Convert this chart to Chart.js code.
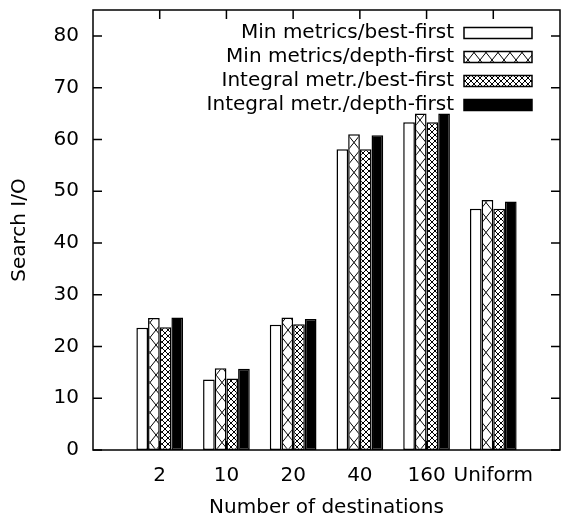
<!DOCTYPE html>
<html><head><meta charset="utf-8">
<script src="https://cdn.jsdelivr.net/npm/chart.js@4/dist/chart.umd.min.js"></script>
<style>html,body{margin:0;padding:0;background:#fff}#wrap{width:561px;height:520px}</style>
</head><body><div id="wrap"><canvas id="c" width="561" height="520"></canvas></div>
<script>
const categories = ['2', '10', '20', '40', '160', 'Uniform'];
const seriesNames = ['Min metrics/best-first', 'Min metrics/depth-first', 'Integral metr./best-first', 'Integral metr./depth-first'];
const minBest   = [23.6, 13.6, 24.2, 58.1, 63.3, 46.6];
const minDepth  = [25.5, 15.8, 25.6, 61.0, 65.0, 48.3];
const intBest   = [23.7, 13.8, 24.3, 58.1, 63.3, 46.6];
const intDepth  = [25.6, 15.7, 25.3, 60.8, 65.0, 48.0];
const yTicks = [0, 10, 20, 30, 40, 50, 60, 70, 80];
const yMax = 85;
const xTitle = 'Number of destinations';
const yTitle = 'Search I/O';

function crossPattern(w, h, lw) {
  const c = document.createElement('canvas');
  c.width = w; c.height = h;
  const g = c.getContext('2d');
  g.fillStyle = '#fff'; g.fillRect(0, 0, w, h);
  g.strokeStyle = '#000'; g.lineWidth = lw;
  g.beginPath();
  g.moveTo(-w, -h); g.lineTo(2 * w, 2 * h);
  g.moveTo(2 * w, -h); g.lineTo(-w, 2 * h);
  g.stroke();
  return g.createPattern(c, 'repeat');
}

const labels = [''].concat(categories, ['']);
const pad = arr => [null].concat(arr, [null]);
const fills = ['#ffffff', crossPattern(12, 15, 1), crossPattern(6, 6, 1), '#000000'];
const series = [minBest, minDepth, intBest, intDepth];

Chart.defaults.font.family = 'DejaVu Sans';
Chart.defaults.font.size = 20;
Chart.defaults.color = '#000';

const framePlugin = {
  id: 'frame',
  afterLayout(chart) {
    const lg = chart.legend, a = chart.chartArea;
    if (lg) {
      const h = lg.height;
      lg.left = a.left;
      lg.right = a.right - 24;
      lg.width = lg.right - lg.left;
      lg.top = a.top + 9;
      lg.bottom = lg.top + h;
    }
  },
  beforeDatasetsDraw(chart) {
    const { ctx, chartArea: a, scales } = chart;
    ctx.save();
    ctx.strokeStyle = '#000'; ctx.lineWidth = 1.5;
    ctx.beginPath();
    yTicks.forEach(v => {
      const py = scales.y.getPixelForValue(v);
      ctx.moveTo(a.left, py); ctx.lineTo(a.left + 9, py);
      ctx.moveTo(a.right - 9, py); ctx.lineTo(a.right, py);
    });
    categories.forEach((c, i) => {
      const px = scales.x.getPixelForValue(i + 1);
      ctx.moveTo(px, a.top); ctx.lineTo(px, a.top + 9);
      ctx.moveTo(px, a.bottom - 9); ctx.lineTo(px, a.bottom);
    });
    ctx.stroke();
    ctx.restore();
  },
  afterDraw(chart) {
    const { ctx, chartArea: a } = chart;
    ctx.save();
    ctx.strokeStyle = '#000'; ctx.lineWidth = 1.5;
    ctx.strokeRect(a.left, a.top, a.right - a.left, a.bottom - a.top);
    ctx.restore();
  }
};

new Chart(document.getElementById('c'), {
  type: 'bar',
  data: {
    labels: labels,
    datasets: series.map((s, i) => ({
      label: seriesNames[i],
      data: pad(s),
      backgroundColor: fills[i],
      borderColor: '#000',
      borderWidth: 1.5,
      borderSkipped: false,
      categoryPercentage: 0.7,
      barPercentage: 1.0
    }))
  },
  options: {
    responsive: false,
    animation: false,
    devicePixelRatio: 1,
    layout: { autoPadding: false, padding: { top: 10, right: 1, left: 0, bottom: 0 } },
    scales: {
      x: {
        offset: false,
        grid: { display: false, drawTicks: false },
        border: { display: false },
        ticks: { autoSkip: false, maxRotation: 0, padding: 14 },
        title: { display: true, text: xTitle, padding: { top: 0, bottom: 0 } },
        afterFit(s) { s.height = 70; s.paddingLeft = 0; s.paddingRight = 0; }
      },
      y: {
        min: 0, max: yMax,
        grid: { display: false, drawTicks: false },
        border: { display: false },
        ticks: { padding: 14 },
        afterBuildTicks(s) { s.ticks = yTicks.map(v => ({ value: v })); },
        title: { display: true, text: yTitle, padding: { top: 8, bottom: 0 } },
        afterFit(s) { s.width = 93; s.paddingTop = 0; s.paddingBottom = 0; }
      }
    },
    plugins: {
      legend: {
        position: 'chartArea',
        align: 'start',
        rtl: true,
        labels: { boxWidth: 68, boxHeight: 11, padding: 4, color: '#000', font: { size: 20 } }
      },
      tooltip: { enabled: false }
    }
  },
  plugins: [framePlugin]
});
</script>
</body></html>
